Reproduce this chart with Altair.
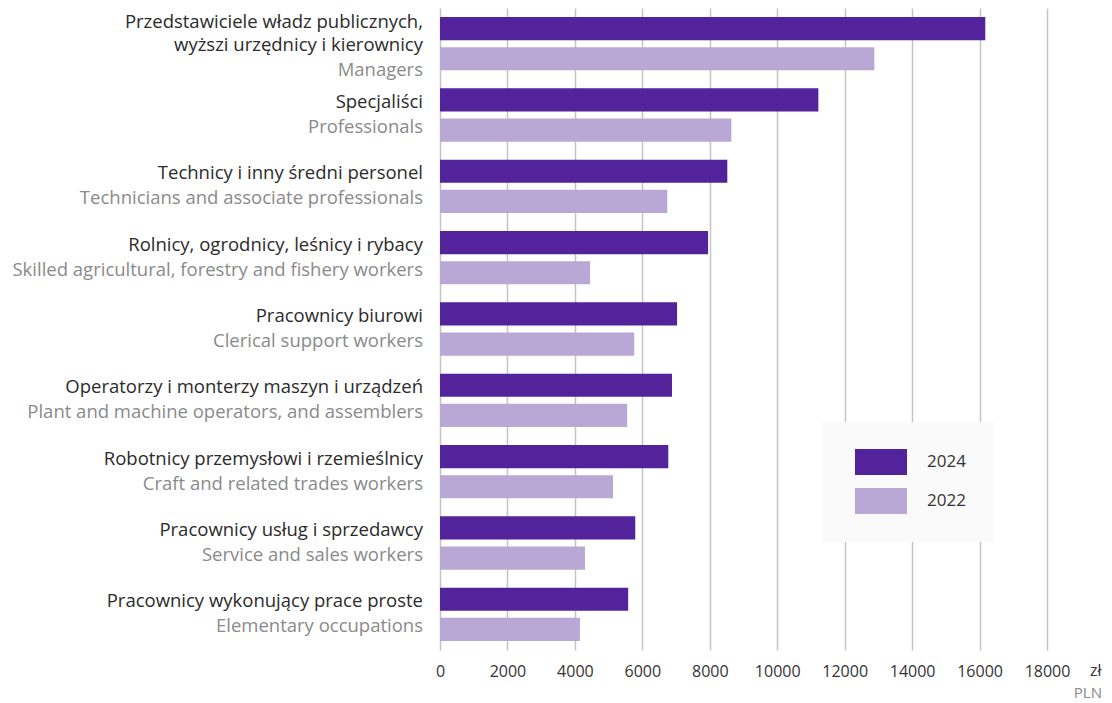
import altair as alt
import pandas as pd

FONT = "Open Sans"

categories = ["Managers", "Professionals", "Technicians", "Agricultural", "Clerical",
              "Operators", "Craft", "Service", "Elementary"]
polish = [
    "wyższi urzędnicy i kierownicy",
    "Specjaliści",
    "Technicy i inny średni personel",
    "Rolnicy, ogrodnicy, leśnicy i rybacy",
    "Pracownicy biurowi",
    "Operatorzy i monterzy maszyn i urządzeń",
    "Robotnicy przemysłowi i rzemieślnicy",
    "Pracownicy usług i sprzedawcy",
    "Pracownicy wykonujący prace proste",
]
polish_first_line = "Przedstawiciele władz publicznych,"
english = [
    "Managers",
    "Professionals",
    "Technicians and associate professionals",
    "Skilled agricultural, forestry and fishery workers",
    "Clerical support workers",
    "Plant and machine operators, and assemblers",
    "Craft and related trades workers",
    "Service and sales workers",
    "Elementary occupations",
]
values_2024 = [16170, 11220, 8520, 7950, 7030, 6880, 6770, 5790, 5580]
values_2022 = [12880, 8640, 6740, 4450, 5760, 5550, 5130, 4300, 4150]
years = ["2024", "2022"]
x_ticks = list(range(0, 18001, 2000))
unit_main = "zł"
unit_sub = "PLN"

DARK = "#52239a"
LIGHT = "#b9a8d5"
LABEL_SIZE = 18.5

rows = []
for c, v24, v22 in zip(categories, values_2024, values_2022):
    rows.append({"cat": c, "year": "2024", "value": v24})
    rows.append({"cat": c, "year": "2022", "value": v22})
df = pd.DataFrame(rows)

pl = pd.DataFrame({"cat": categories, "text": polish, "year": "2024"})
en = pd.DataFrame({"cat": categories, "text": english, "year": "2022"})
first = pd.DataFrame({"cat": [categories[0]], "text": [polish_first_line], "year": ["2024"]})

W, H = 607, 642

y_enc = alt.Y("cat:N", sort=categories, scale=alt.Scale(paddingInner=0, paddingOuter=0), axis=None)
yo_enc = alt.YOffset("year:N", sort=years, scale=alt.Scale(domain=years, paddingInner=0.233, paddingOuter=0.3))

bars = alt.Chart(df).mark_bar().encode(
    x=alt.X("value:Q", scale=alt.Scale(domain=[0, 18000], nice=False),
            axis=alt.Axis(values=x_ticks, title=None, grid=True, ticks=False, domain=False,
                          labelPadding=13, labelFontSize=16, labelColor="#333333",
                          labelOverlap=False, labelFlush=False,
                          labelFont=FONT, gridColor="#c4c4c4", gridWidth=1.5, format="d")),
    y=y_enc,
    yOffset=yo_enc,
    color=alt.Color("year:N", scale=alt.Scale(domain=years, range=[DARK, LIGHT]),
                    legend=alt.Legend(title=None, orient="none", legendX=382, legendY=414,
                                      symbolType="M-2,-1L2,-1L2,1L-2,1Z",
                                      symbolSize=676, symbolStrokeWidth=0, symbolOffset=19,
                                      labelFontSize=17, labelFont=FONT, labelColor="#333333",
                                      labelOffset=33, rowPadding=13, padding=27,
                                      fillColor="#fafafa", strokeColor="#fafafa")),
)

def label_layer(data, color, dy, filt=None):
    ch = alt.Chart(data)
    if filt is not None:
        ch = ch.transform_filter(filt)
    return ch.mark_text(align="right", baseline="middle", fontSize=LABEL_SIZE, font=FONT,
                        color=color, dy=dy).encode(
        x=alt.value(-17), y=y_enc, yOffset=yo_enc, text="text:N")

not_first = alt.datum.cat != categories[0]
is_first = alt.datum.cat == categories[0]

pl_layer = label_layer(pl, "#2b2b2b", 2, not_first)
en_layer = label_layer(en, "#8a8a8a", -3, not_first)
m1 = label_layer(first, "#2b2b2b", -7)
m2 = label_layer(pl, "#2b2b2b", 16, is_first)
m3 = label_layer(en, "#8a8a8a", 11, is_first)

unit1 = alt.Chart(pd.DataFrame({"t": [unit_main]})).mark_text(
    align="left", baseline="middle", fontSize=16, font=FONT, color="#333333").encode(
    x=alt.value(W + 43), y=alt.value(H + 21), text="t:N")
unit2 = alt.Chart(pd.DataFrame({"t": [unit_sub]})).mark_text(
    align="right", baseline="middle", fontSize=15, font=FONT, color="#8a8a8a").encode(
    x=alt.value(W + 55), y=alt.value(H + 43), text="t:N")

chart = alt.layer(bars, pl_layer, en_layer, m1, m2, m3, unit1, unit2).properties(
    width=W, height=H,
    padding={"left": 432, "top": 0, "right": 57, "bottom": 58},
    autosize=alt.AutoSizeParams(type="none"),
).configure_view(stroke=None)

chart.save("out.html", embed_options={"renderer": "svg", "actions": False})
